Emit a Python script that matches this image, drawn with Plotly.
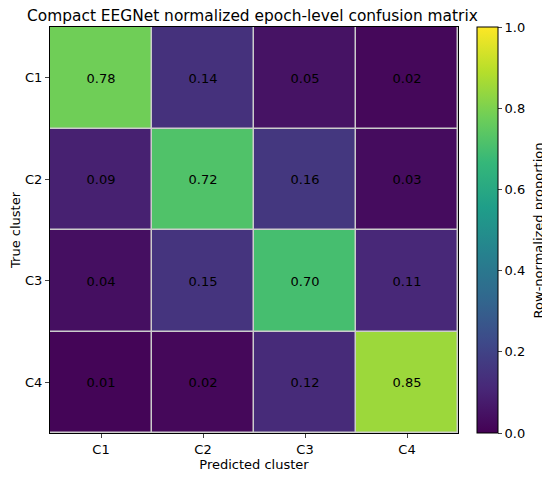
import plotly.graph_objects as go

# cluster labels and row-normalized confusion matrix values
clusters = ["C1", "C2", "C3", "C4"]
row_c1 = [0.78, 0.14, 0.05, 0.02]
row_c2 = [0.09, 0.72, 0.16, 0.03]
row_c3 = [0.04, 0.15, 0.70, 0.11]
row_c4 = [0.01, 0.02, 0.12, 0.85]
cbar_ticks = [0.0, 0.2, 0.4, 0.6, 0.8, 1.0]

z = [row_c1, row_c2, row_c3, row_c4]
text = [[f"{v:.2f}" for v in row] for row in z]

fig = go.Figure(
    go.Heatmap(
        z=z,
        x=clusters,
        y=clusters,
        text=text,
        texttemplate="%{text}",
        textfont=dict(size=13, color="black"),
        colorscale="Viridis",
        zmin=0,
        zmax=1,
        xgap=1.5,
        ygap=1.5,
        colorbar=dict(
            x=1.047,
            xanchor="left",
            xpad=0,
            y=0.5,
            yanchor="middle",
            ypad=0,
            len=1,
            lenmode="fraction",
            thickness=21,
            outlinewidth=1,
            outlinecolor="black",
            ticks="outside",
            ticklen=4,
            tickvals=cbar_ticks,
            ticktext=[f"{t:.1f}" for t in cbar_ticks],
            tickfont=dict(size=13),
        ),
    )
)

# colorbar label as a rotated annotation so it stays inside the page
fig.add_annotation(
    text="Row-normalized proportion",
    xref="paper", yref="paper",
    x=1.197, y=0.5,
    xanchor="center", yanchor="middle",
    textangle=-90,
    showarrow=False,
    font=dict(size=13),
)

fig.update_xaxes(
    title=dict(text="Predicted cluster", font=dict(size=13), standoff=4),
    automargin=False,
    ticks="outside",
    ticklen=4,
    tickfont=dict(size=13),
    showline=True,
    linecolor="black",
    linewidth=1,
    mirror=True,
    showgrid=False,
    zeroline=False,
)
fig.update_yaxes(
    title=dict(text="True cluster", font=dict(size=13), standoff=6),
    automargin=False,
    autorange="reversed",
    ticks="outside",
    ticklen=4,
    tickfont=dict(size=13),
    showline=True,
    linecolor="black",
    linewidth=1,
    mirror=True,
    showgrid=False,
    zeroline=False,
)

# page adds an 8px body margin, so the figure is drawn slightly smaller
fig.update_layout(
    width=542,
    height=469,
    margin=dict(l=42, r=92, t=19, b=44, autoexpand=False),
    font=dict(family="DejaVu Sans", color="black"),
    title=dict(
        text="Compact EEGNet normalized epoch-level confusion matrix",
        font=dict(size=15.4),
        x=0.451,
        xanchor="center",
        y=0.984,
        yanchor="middle",
    ),
    plot_bgcolor="#cccccc",
    paper_bgcolor="white",
)

fig.write_html("out.html")
